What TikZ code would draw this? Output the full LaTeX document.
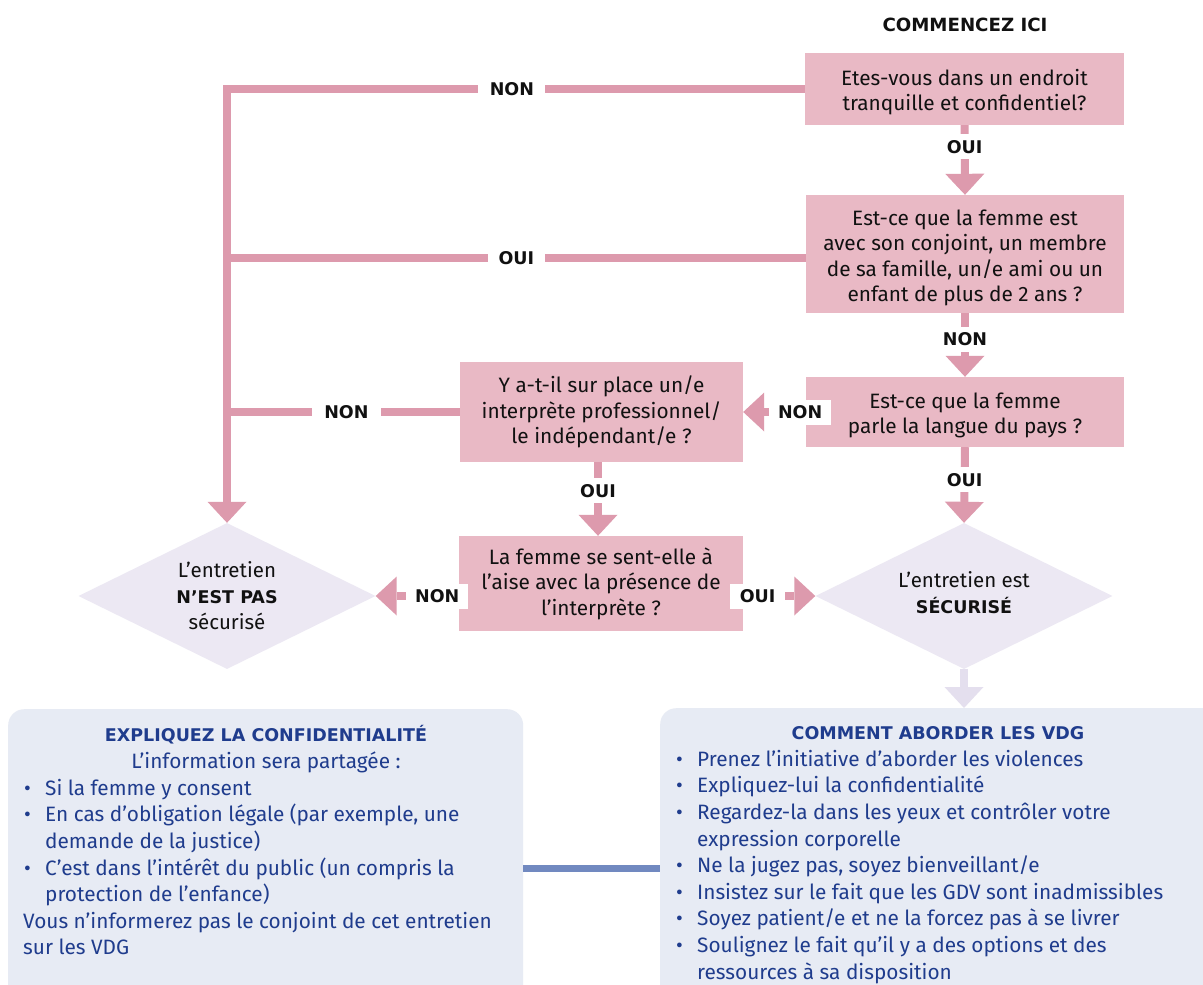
\documentclass[tikz,border=0pt]{standalone}
\usepackage{fontspec}
\setmainfont{Fira Sans}
\newfontfamily\vfont{DejaVu Sans}
\usetikzlibrary{arrows.meta,shapes.geometric}
\definecolor{pbox}{HTML}{E9B9C5}
\definecolor{parr}{HTML}{DD9AAD}
\definecolor{dfill}{HTML}{ECE8F3}
\definecolor{larr}{HTML}{E4DFEE}
\definecolor{bfill}{HTML}{E7EBF4}
\definecolor{btext}{HTML}{1F3C8D}
\definecolor{bline}{HTML}{7189C0}
\definecolor{ink}{HTML}{111111}
\newcommand\bitem{\makebox[22pt][l]{\hspace{1pt}•}}
\newcommand\bcont{\hspace*{22pt}}
\newcommand\dn{\rule{0pt}{22pt}}
\newcommand\vb[1]{{\vfont\bfseries\fontsize{17.5}{26}\selectfont #1}}
\tikzset{
  qbox/.style={fill=pbox, inner sep=0pt, align=center, text=ink,
    font=\fontsize{20.8}{25.5}\selectfont},
  dshape/.style={diamond, fill=dfill, inner sep=0pt, minimum width=297pt, minimum height=146pt},
  dtext/.style={align=center, text=ink, font=\fontsize{20.5}{26}\selectfont},
  pline/.style={draw=parr, line width=8pt},
  parrow/.style={draw=parr, line width=8pt, -{Triangle[width=39pt,length=21pt,line width=0pt]}},
  larrow/.style={draw=larr, line width=8pt, -{Triangle[width=39pt,length=21pt,line width=0pt]}},
  lab/.style={fill=white, text=ink, inner xsep=9pt, inner ysep=0pt, minimum height=25pt,
    font=\vfont\bfseries\fontsize{17.5}{20}\selectfont},
  bbox/.style={fill=bfill, rounded corners=16pt, inner sep=0pt, anchor=north west},
  btitle/.style={anchor=base, text=btext, inner sep=0pt, font=\vfont\bfseries\fontsize{17.5}{24}\selectfont},
  blist/.style={anchor=north west, inner sep=0pt, align=left, text=btext,
    font=\fontsize{20.8}{26.6}\selectfont},
  blueline/.style={draw=bline, line width=7pt}
}
\begin{document}
\begin{tikzpicture}[x=1pt, y=-1pt]
\clip (0,0) rectangle (1203,985);
\fill[white] (0,0) rectangle (1203,985);

% ---- flowchart nodes
\node[text=ink, inner sep=0pt, font=\vfont\bfseries\fontsize{18.2}{22}\selectfont] (start) at (965,25) {COMMENCEZ ICI};
\node[qbox, minimum width=319pt, minimum height=72pt] (b1) at (964.5,89) {\dn Etes-vous dans un endroit\\tranquille et confidentiel?};
\node[qbox, minimum width=318pt, minimum height=118pt] (b2) at (965,254) {\rule{0pt}{23.5pt}Est-ce que la femme est\\avec son conjoint, un membre\\de sa famille, un/e ami ou un\\enfant de plus de 2 ans ?};
\node[qbox, minimum width=318pt, minimum height=70pt] (b3) at (965,412) {\dn Est-ce que la femme\\parle la langue du pays ?};
\node[qbox, minimum width=283pt, minimum height=100pt] (b4) at (601.5,412) {Y a-t-il sur place un/e\\interprète professionnel/\\le indépendant/e ?};
\node[qbox, minimum width=284pt, minimum height=95pt] (b5) at (601,583.5) {La femme se sent-elle à\\l’aise avec la présence de\\l’interprète ?};

\node[dshape] (d1) at (227,596) {};
\node[dtext] (d1t) at (d1) {L’entretien\\\vb{N’EST PAS}\\sécurisé};
\node[dshape] (d2) at (964,596) {};
\node[dtext] (d2t) at ([yshift=3pt]d2.center) {L’entretien est\\\vb{SÉCURISÉ}};

% ---- bottom boxes
\node[bbox, minimum width=515pt, minimum height=320pt] (lbox) at (8,709) {};
\node[bbox, minimum width=560pt, minimum height=320pt] (rbox) at (660,708) {};

% ---- connectors
\draw[parrow] (b1.west) -- node[lab, pos=0.507, minimum width=67pt]{NON} (b1.west -| d1.north) -- (d1.north);
\path ([yshift=-4pt]b2.west) coordinate (b2w);
\draw[pline] (b2w) -- node[lab, pos=0.5, minimum width=57pt]{OUI} (b2w -| d1.north);
\draw[pline] (b4.west) -- node[lab, pos=0.487, minimum width=69pt]{NON} (b4.west -| d1.north);

\draw[parrow] (b1.south) -- node[lab, pos=0.31]{OUI} (b2.north);
\draw[parrow] (b2.south) -- node[lab, pos=0.41]{NON} (b3.north);
\draw[parrow] (b3.south) -- node[lab, pos=0.43]{OUI} (d2.north);
\draw[parrow] (b3.west) -- node[lab, pos=0.09, minimum width=62pt]{NON} (b4.east);
\draw[parrow] ([xshift=-3.5pt]b4.south) -- node[lab, pos=0.39]{OUI} ([xshift=-3pt]b5.north);
\path ([yshift=-12.5pt]b5.west) coordinate (b5w);
\path ([yshift=-12.5pt]b5.east) coordinate (b5e);
\draw[parrow] (b5w) -- node[lab, pos=0.26, minimum width=61pt]{NON} (d1.east);
\draw[parrow] (b5e) -- node[lab, pos=0.2, minimum width=55pt]{OUI} (d2.west);

\draw[larrow] (d2.south) -- (d2.south |- rbox.north);

\path ([yshift=-159pt]lbox.north east) coordinate (lc);
\draw[blueline] (lc) -- (lc -| rbox.west);

% ---- bottom texts
\node[btitle] (ltitle) at (266,741) {EXPLIQUEZ LA CONFIDENTIALITÉ};
\node[anchor=base, text=btext, inner sep=0pt, font=\fontsize{20.8}{26.6}\selectfont] (lsub) at (266,768) {L’information sera partagée :};
\node[blist] (llist) at (23,776.4) {\strut\bitem Si la femme y consent\\
\bitem En cas d’obligation légale (par exemple, une\\
\bcont demande de la justice)\\
\bitem C’est dans l’intérêt du public (un compris la\\
\bcont protection de l’enfance)\\
Vous n’informerez pas le conjoint de cet entretien\\
sur les VDG};

\node[btitle] (rtitle) at (938,739) {COMMENT ABORDER LES VDG};
\node[blist] (rlist) at (675,747.4) {\strut\bitem Prenez l’initiative d’aborder les violences\\
\bitem Expliquez-lui la confidentialité\\
\bitem Regardez-la dans les yeux et contrôler votre\\
\bcont expression corporelle\\
\bitem Ne la jugez pas, soyez bienveillant/e\\
\bitem Insistez sur le fait que les GDV sont inadmissibles\\
\bitem Soyez patient/e et ne la forcez pas à se livrer\\
\bitem Soulignez le fait qu’il y a des options et des\\
\bcont ressources à sa disposition};
\end{tikzpicture}
\end{document}
